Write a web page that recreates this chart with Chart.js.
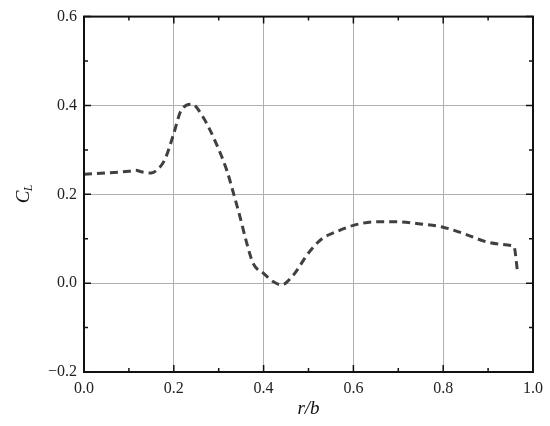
<!DOCTYPE html>
<html>
<head>
<meta charset="utf-8">
<script src="https://cdn.jsdelivr.net/npm/chart.js@4"></script>
<style>
  body { margin: 0; background: #fff; }
  canvas { display: block; }
</style>
</head>
<body>
<canvas id="chart-1" width="550" height="426"></canvas>
<script>
// r/b positions and lift coefficient
var rb = [0, 0.05, 0.1, 0.115, 0.13, 0.15, 0.165, 0.18, 0.2, 0.215, 0.24, 0.265, 0.295, 0.318, 0.333, 0.347, 0.362, 0.377, 0.4, 0.422, 0.44, 0.466, 0.5, 0.53, 0.56, 0.6, 0.65, 0.7, 0.75, 0.8, 0.85, 0.9, 0.955, 0.958, 0.965];
var cl = [0.245, 0.248, 0.252, 0.254, 0.25, 0.248, 0.257, 0.278, 0.337, 0.386, 0.403, 0.374, 0.313, 0.254, 0.202, 0.151, 0.092, 0.044, 0.022, 0.003, -0.004, 0.018, 0.068, 0.1, 0.115, 0.13, 0.138, 0.138, 0.133, 0.126, 0.11, 0.092, 0.084, 0.082, 0.03];

var xTicks = [0, 0.2, 0.4, 0.6, 0.8, 1.0];
var yTicks = [-0.2, 0, 0.2, 0.4, 0.6];
var xMinor = [0.1, 0.3, 0.5, 0.7, 0.9];
var yMinor = [-0.1, 0.1, 0.3, 0.5];

var points = rb.map(function (x, i) {
  return { x: x, y: cl[i] };
});

var tickFont = { family: "'Liberation Serif', serif", size: 16 };

function fmt(v) {
  return Number(v).toFixed(1).replace("-", "\u2212");
}

// frame, inward ticks and axis titles
var framePlugin = {
  id: "frame",
  afterDraw: function (chart) {
    var ctx = chart.ctx;
    var a = chart.chartArea;
    var xs = chart.scales.x;
    var ys = chart.scales.y;
    ctx.save();
    ctx.strokeStyle = "#111";
    ctx.lineWidth = 2;
    ctx.strokeRect(a.left, a.top, a.right - a.left, a.bottom - a.top);

    ctx.lineWidth = 1.5;
    function tick(list, len) {
      list.forEach(function (v) {
        var px = xs.getPixelForValue(v);
        ctx.beginPath();
        ctx.moveTo(px, a.bottom); ctx.lineTo(px, a.bottom - len);
        ctx.moveTo(px, a.top); ctx.lineTo(px, a.top + len);
        ctx.stroke();
      });
    }
    function ytick(list, len) {
      list.forEach(function (v) {
        var py = ys.getPixelForValue(v);
        ctx.beginPath();
        ctx.moveTo(a.left, py); ctx.lineTo(a.left + len, py);
        ctx.moveTo(a.right, py); ctx.lineTo(a.right - len, py);
        ctx.stroke();
      });
    }
    tick(xTicks, 7);
    tick(xMinor, 4);
    ytick(yTicks, 7);
    ytick(yMinor, 4);

    ctx.fillStyle = "#111";
    ctx.font = "italic 19px 'Liberation Serif', serif";
    ctx.textAlign = "center";
    ctx.textBaseline = "middle";
    ctx.fillText("r/b", (a.left + a.right) / 2, 409);

    ctx.translate(24, (a.top + a.bottom) / 2);
    ctx.rotate(-Math.PI / 2);
    ctx.font = "italic 19px 'Liberation Serif', serif";
    ctx.textAlign = "left";
    ctx.fillText("C", -9, 0);
    ctx.font = "italic 12px 'Liberation Serif', serif";
    ctx.fillText("L", 3, 5);
    ctx.restore();
  }
};

var ctx = document.getElementById("chart-1").getContext("2d");
var myChart = new Chart(ctx, {
  type: "line",
  data: {
    datasets: [
      {
        data: points,
        borderColor: "#404040",
        borderWidth: 3,
        borderDash: [8, 5],
        pointRadius: 0,
        fill: false,
        cubicInterpolationMode: "monotone"
      }
    ]
  },
  options: {
    responsive: false,
    animation: false,
    layout: { padding: { top: 10, right: 17, left: 0, bottom: 0 } },
    plugins: {
      legend: { display: false },
      tooltip: { enabled: false }
    },
    scales: {
      x: {
        type: "linear",
        min: 0,
        max: 1,
        afterBuildTicks: function (scale) {
          scale.ticks = xTicks.map(function (v) { return { value: v }; });
        },
        afterFit: function (scale) { scale.height = 54; },
        grid: {
          drawTicks: false,
          color: function (c) {
            var v = c.tick ? c.tick.value : 0;
            return v > 0.01 && v < 0.99 ? "#b0b0b0" : "rgba(0,0,0,0)";
          },
          lineWidth: 1
        },
        border: { display: false },
        ticks: {
          color: "#222",
          font: tickFont,
          padding: 7,
          maxRotation: 0,
          callback: fmt
        }
      },
      y: {
        min: -0.2,
        max: 0.6,
        afterBuildTicks: function (scale) {
          scale.ticks = yTicks.map(function (v) { return { value: v }; });
        },
        afterFit: function (scale) { scale.width = 84; },
        grid: {
          drawTicks: false,
          color: function (c) {
            var v = c.tick ? c.tick.value : 0;
            return v > -0.19 && v < 0.59 ? "#b0b0b0" : "rgba(0,0,0,0)";
          },
          lineWidth: 1
        },
        border: { display: false },
        ticks: {
          color: "#222",
          font: tickFont,
          padding: 7,
          callback: fmt
        }
      }
    }
  },
  plugins: [framePlugin]
});
</script>
</body>
</html>
